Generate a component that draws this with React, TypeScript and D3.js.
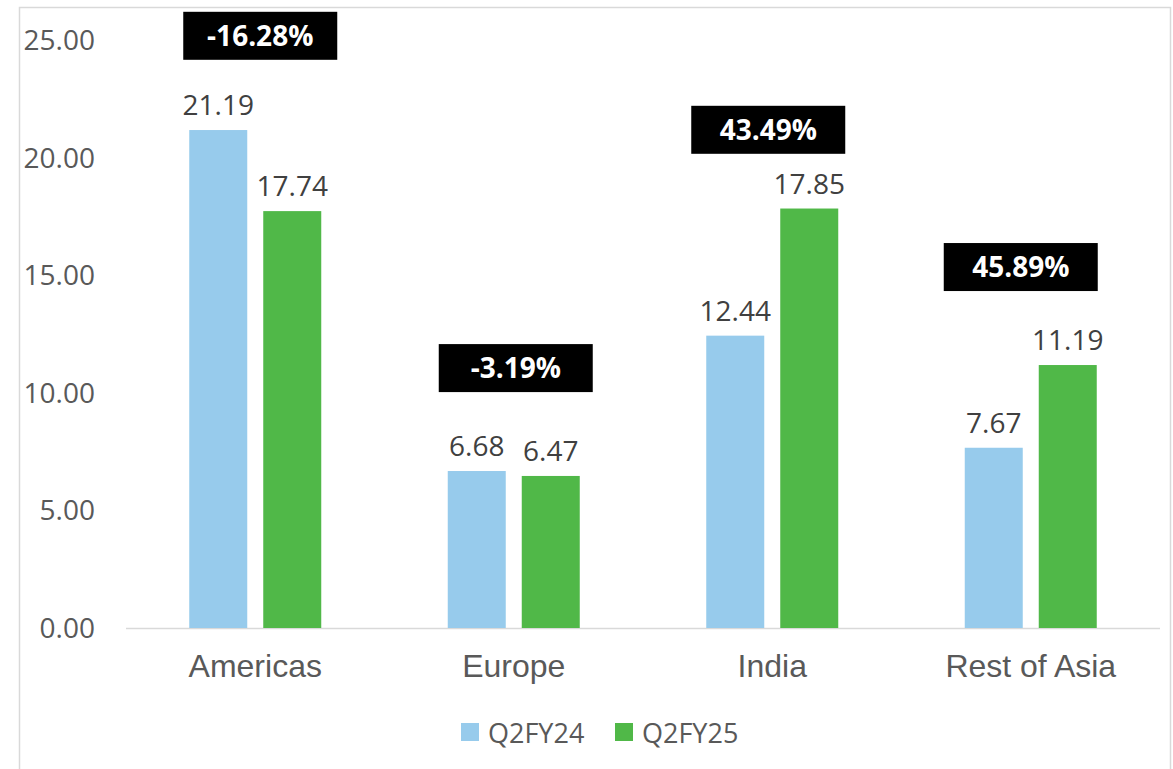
import React from "react";
import * as d3 from "d3";

const categories = ["Americas", "Europe", "India", "Rest of Asia"];
const seriesNames = ["Q2FY24", "Q2FY25"];
const q2fy24 = [21.19, 6.68, 12.44, 7.67];
const q2fy25 = [17.74, 6.47, 17.85, 11.19];
const growthLabels = ["-16.28%", "-3.19%", "43.49%", "45.89%"];
const yTicks = [0, 5, 10, 15, 20, 25];

// layout anchors for the growth boxes (value-axis units and x offsets in px)
const boxAnchorValue = [25.2, 11.06, 21.2, 15.36];
const boxOffsetX = [5, 2, -4, -10];

const W = 1173;
const H = 769;
const colors = ["#97CBEC", "#50B848"];
const sans = "'Open Sans', 'Noto Sans', sans-serif";
const arial = "'Liberation Sans', Arial, sans-serif";

export default function App() {
  const x0 = d3.scaleBand<string>().domain(categories).range([126, 1160]).paddingInner(0).paddingOuter(0);
  const y = d3.scaleLinear().domain([0, 25]).range([628, 40.5]);
  const barW = 58;
  const gap = 16;
  const series = [q2fy24, q2fy25];

  return (
    <svg width={W} height={H} style={{ display: "block", position: "absolute", left: 0, top: 0 }}>
      <rect x={0} y={0} width={W} height={H} fill="#fff" />
      <path d={`M19.5,${H + 5} L19.5,7.5 L1170.5,7.5 L1170.5,${H + 5}`} fill="none" stroke="#d9d9d9" strokeWidth={1.5} />
      {yTicks.map((t) => (
        <text key={t} x={95} y={y(t)} dy="0.35em" textAnchor="end" fontFamily={sans} fontSize={28} fill="#595959">
          {t.toFixed(2)}
        </text>
      ))}
      <line x1={126} x2={1160} y1={y(0) + 0.5} y2={y(0) + 0.5} stroke="#d9d9d9" strokeWidth={1.5} />
      {categories.map((c, i) => {
        const cx = (x0(c) as number) + x0.bandwidth() / 2;
        return (
          <g key={c}>
            {series.map((s, si) => {
              const bx = si === 0 ? cx - gap / 2 - barW : cx + gap / 2;
              const by = y(s[i]);
              return (
                <g key={si}>
                  <rect x={bx} y={by} width={barW} height={y(0) - by} fill={colors[si]} />
                  <text x={bx + barW / 2} y={by - 15} textAnchor="middle" fontFamily={sans} fontSize={28} fill="#404040">
                    {s[i].toFixed(2)}
                  </text>
                </g>
              );
            })}
            <text x={cx} y={677} textAnchor="middle" fontFamily={arial} fontSize={32} fill="#595959">
              {c}
            </text>
            <rect x={cx + boxOffsetX[i] - 77} y={y(boxAnchorValue[i]) - 24} width={154} height={48} fill="#000" />
            <text x={cx + boxOffsetX[i]} y={y(boxAnchorValue[i])} dy="0.36em" textAnchor="middle" fontFamily={sans} fontSize={28} fontWeight="bold" fill="#fff">
              {growthLabels[i]}
            </text>
          </g>
        );
      })}
      {seriesNames.map((n, i) => {
        const lx = 461 + i * 154;
        return (
          <g key={n}>
            <rect x={lx} y={723} width={18} height={18} fill={colors[i]} />
            <text x={lx + 27} y={743} fontFamily={sans} fontSize={27} fill="#595959">
              {n}
            </text>
          </g>
        );
      })}
    </svg>
  );
}
